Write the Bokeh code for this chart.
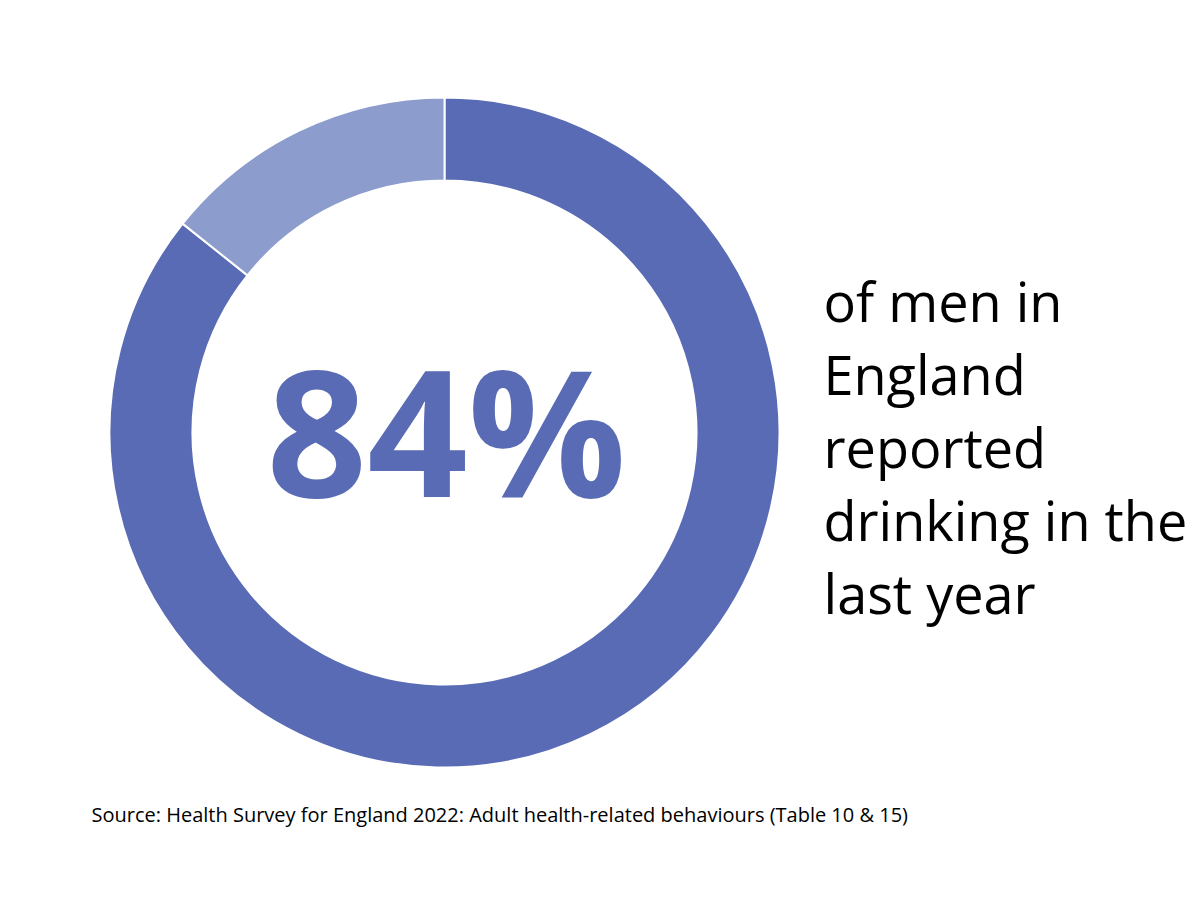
import numpy as np
from bokeh.plotting import figure
from bokeh.models import Range1d
from bokeh.core.properties import value
from bokeh.embed import file_html
from bokeh.resources import INLINE

# Data
categories = ["Drank in the last year", "Did not drink"]
shares = [84, 14]
colors = ["#596BB4", "#8B9CCD"]
headline = "84%"
caption_lines = ["of men in", "England", "reported", "drinking in the", "last year"]
source_note = "Source: Health Survey for England 2022: Adult health-related behaviours (Table 10 & 15)"

W, H = 1196, 880
p = figure(width=W, height=H, output_backend="svg", toolbar_location=None,
           x_range=Range1d(0, W), y_range=Range1d(0, H), min_border=0)
p.axis.visible = False
p.grid.visible = False
p.outline_line_color = None
p.background_fill_color = "white"
p.border_fill_color = "white"

def sx(x):
    return x

def sy(y):
    return H - y

def base_y(b, fs):
    # place text so its alphabetic baseline lands at screen row b
    return sy(b - 0.405 * fs)

cx, cy = sx(444), sy(432)
vals = np.array(shares, dtype=float)
fr = vals / vals.sum()
cum = np.concatenate([[0], np.cumsum(fr)])
start = np.pi / 2 - 2 * np.pi * cum[:-1]
end = np.pi / 2 - 2 * np.pi * cum[1:]

p.annular_wedge(x=[cx] * len(shares), y=[cy] * len(shares),
                inner_radius=252, outer_radius=335,
                inner_radius_units="screen", outer_radius_units="screen",
                start_angle=list(start), end_angle=list(end), direction="clock",
                fill_color=colors, line_color="white", line_width=2)

fs_big = 176
p.text(x=[sx(446)], y=[base_y(500, fs_big)], text=[headline], text_align="center",
       text_baseline="alphabetic", text_font=value("Open Sans"),
       text_font_style="bold", text_font_size=f"{fs_big}px", text_color=colors[0])

fs_cap = 54
base = [322, 395, 468, 541, 614]
p.text(x=[sx(823)] * len(caption_lines), y=[base_y(b, fs_cap) for b in base], text=caption_lines,
       text_align="left", text_baseline="alphabetic", text_font=value("Open Sans"),
       text_font_size=f"{fs_cap}px", text_color="#000000")

fs_src = 20
p.text(x=[sx(91)], y=[base_y(822, fs_src)], text=[source_note], text_align="left",
       text_baseline="alphabetic", text_font=value("Open Sans"),
       text_font_size=f"{fs_src}px", text_color="#000000")

open("out.html", "w").write(file_html(p, INLINE))
